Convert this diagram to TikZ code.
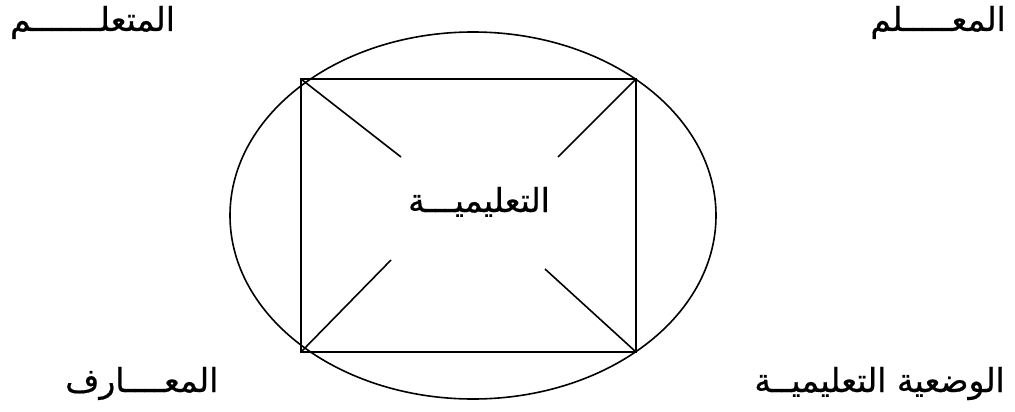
\documentclass[tikz,border=0pt]{standalone}
\usepackage{fontspec}
\usetikzlibrary{shapes.geometric}
\newfontfamily\arabicfont[Script=Arabic,FakeBold=0.6]{DejaVu Sans}
\TeXXeTstate=1
\tikzset{
  line/.style={line width=1.6pt, black},
  stub/.style={line, shorten <=1.2pt},
  lbl/.style={inner sep=0pt, font=\arabicfont\fontsize{33}{38}\selectfont}
}
\begin{document}
\begin{tikzpicture}[x=1pt,y=-1pt]
\useasboundingbox (0,0) rectangle (1015,412);
% ellipse
\node[line, draw, ellipse, minimum width=486pt, minimum height=367pt, inner sep=0pt] (ell) at (473,215.5) {};
% rectangle
\coordinate (tl) at (301,79);
\coordinate (tr) at (636,79);
\coordinate (br) at (636,352);
\coordinate (bl) at (301,352);
% diagonal stubs
\coordinate (itl) at (401,157);
\coordinate (itr) at (558,157);
\coordinate (ibl) at (391,260);
\coordinate (ibr) at (545,269);
\draw[stub] (tl) -- (itl);
\draw[stub] (tr) -- (itr);
\draw[stub] (bl) -- (ibl);
\draw[stub] (br) -- (ibr);
\draw[line, line join=miter] (tl) -- (tr) -- (br) -- (bl) -- cycle;
% labels
\node[lbl, anchor=base west] (learner) at (10,31) {\beginR المتعلـــــــم\endR};
\node[lbl, anchor=base east] (teacher) at (1006,31) {\beginR المعـــــلم\endR};
\node[lbl, anchor=base] (didactic) at (479,212) {\beginR التعليميـــة\endR};
\node[lbl, anchor=base west] (knowledge) at (65,392) {\beginR المعــــارف\endR};
\node[lbl, anchor=base east] (situation) at (1005,392) {\beginR الوضعية التعليميــة\endR};
\end{tikzpicture}
\end{document}
